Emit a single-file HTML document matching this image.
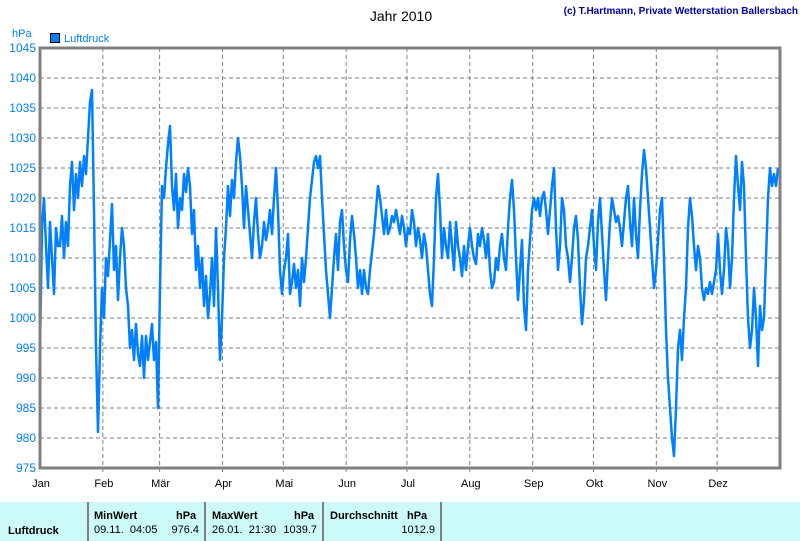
<!DOCTYPE html>
<html><head><meta charset="utf-8">
<style>
body{margin:0;background:#fff;font-family:"Liberation Sans",sans-serif;}
#wrap{position:relative;width:800px;height:541px;overflow:hidden;background:#fff;}
</style></head>
<body>
<div id="wrap">
<svg id="chart" width="800" height="500" style="position:absolute;left:0;top:0">
<text x="401" y="21" text-anchor="middle" font-size="14" fill="#000">Jahr 2010</text>
<text x="798" y="14" text-anchor="end" font-size="10" font-weight="bold" fill="#0000a0">(c) T.Hartmann, Private Wetterstation Ballersbach</text>
<text x="12" y="37" font-size="11" fill="#0080ff">hPa</text>
<g><rect x="50.5" y="33.5" width="9" height="9" fill="#0080ff" stroke="#000"/><text x="64" y="42" font-size="11" fill="#0080ff">Luftdruck</text></g>
<g id="grid"></g>
<g id="yticks"></g>
<g id="xticks"></g>
<g id="series"></g>
<rect x="40" y="48" width="740" height="420" fill="none" stroke="#808080" stroke-width="3"/>
</svg>
<div style="position:absolute;left:0;top:502px;width:800px;height:39px;background:#ccfaf8;font-size:11px;color:#000;">
  <div style="position:absolute;left:8px;top:23px;font-weight:bold;">Luftdruck</div>
  <div style="position:absolute;left:87px;top:0;width:2px;height:39px;background:#808080"></div>
  <div style="position:absolute;left:94px;top:8px;font-weight:bold;">MinWert</div>
  <div style="position:absolute;left:176px;top:8px;font-weight:bold;">hPa</div>
  <div style="position:absolute;left:94px;top:22px;">09.11.&nbsp; 04:05</div>
  <div style="position:absolute;left:160px;top:22px;width:39px;text-align:right;">976.4</div>
  <div style="position:absolute;left:204px;top:0;width:2px;height:39px;background:#808080"></div>
  <div style="position:absolute;left:212px;top:8px;font-weight:bold;">MaxWert</div>
  <div style="position:absolute;left:294px;top:8px;font-weight:bold;">hPa</div>
  <div style="position:absolute;left:212px;top:22px;">26.01.&nbsp; 21:30</div>
  <div style="position:absolute;left:276px;top:22px;width:41px;text-align:right;">1039.7</div>
  <div style="position:absolute;left:322px;top:0;width:2px;height:39px;background:#808080"></div>
  <div style="position:absolute;left:330px;top:8px;font-weight:bold;">Durchschnitt&nbsp;&nbsp; hPa</div>
  <div style="position:absolute;left:380px;top:22px;width:55px;text-align:right;">1012.9</div>
  <div style="position:absolute;left:440px;top:0;width:2px;height:39px;background:#808080"></div>
</div>
</div>
<script>
const yTicks=[975,980,985,990,995,1000,1005,1010,1015,1020,1025,1030,1035,1040,1045];
const months=["Jan","Feb","Mär","Apr","Mai","Jun","Jul","Aug","Sep","Okt","Nov","Dez"];
const monthStartDays=[0,31,59,90,120,151,181,212,243,273,304,334];
const pressure=[995,1015,1020,1012,1005,1016,1010,1004,1015,1012,1012,1017,1010,1016,1012,1022,1026,1018,1024,1020,1026,1022,1027,1024,1030,1036,1038,1018,995,981,995,1005,1000,1010,1007,1013,1019,1008,1012,1003,1010,1015,1012,1005,1002,995,998,993,999,994,992,997,990,997,993,996,999,993,996,985,1005,1022,1020,1025,1029,1032,1022,1018,1024,1015,1020,1018,1024,1021,1025,1022,1014,1018,1008,1012,1005,1010,1002,1007,1000,1004,1010,1002,1015,1005,993,1000,1010,1015,1022,1017,1023,1020,1026,1030,1027,1022,1015,1022,1018,1014,1010,1016,1020,1014,1010,1012,1016,1013,1015,1018,1014,1020,1025,1018,1008,1004,1008,1010,1014,1004,1006,1009,1005,1008,1002,1010,1006,1010,1015,1020,1023,1026,1027,1025,1027,1020,1014,1008,1004,1000,1005,1010,1014,1008,1016,1018,1012,1008,1006,1013,1017,1014,1010,1005,1008,1004,1008,1005,1004,1008,1011,1014,1018,1022,1020,1017,1014,1018,1014,1015,1017,1016,1018,1016,1014,1017,1015,1012,1015,1014,1018,1016,1012,1015,1013,1010,1014,1012,1008,1004,1002,1010,1020,1024,1018,1010,1015,1012,1010,1016,1012,1008,1016,1012,1010,1007,1012,1008,1012,1015,1012,1010,1009,1014,1012,1015,1013,1010,1014,1008,1005,1006,1010,1008,1012,1014,1010,1008,1015,1020,1023,1018,1010,1003,1008,1013,1002,998,1008,1013,1018,1020,1018,1020,1017,1020,1021,1018,1014,1018,1022,1025,1015,1008,1012,1020,1018,1012,1010,1006,1010,1015,1017,1013,1005,999,1003,1010,1012,1015,1018,1012,1008,1016,1020,1014,1008,1003,1010,1016,1020,1018,1016,1017,1015,1012,1016,1020,1022,1016,1012,1020,1014,1010,1018,1024,1028,1025,1020,1015,1010,1005,1008,1013,1018,1020,1010,998,990,985,980,977,985,995,998,993,1000,1005,1015,1020,1017,1012,1008,1012,1010,1005,1003,1005,1004,1006,1004,1006,1008,1014,1008,1004,1008,1015,1012,1005,1010,1020,1027,1022,1018,1026,1022,1010,1000,995,998,1005,1000,992,1002,998,1000,1010,1020,1025,1022,1024,1022,1025];

const L=40,R=780,T=48,B=468,DAYS=365;
const yS=v=>T+(1045-v)*(B-T)/70;
const xDay=d=>L+d*(R-L)/DAYS;
const xIdx=i=>L+i*(778-L)/(pressure.length-1);
const NS="http://www.w3.org/2000/svg";
const grid=document.getElementById('grid'),yt=document.getElementById('yticks'),xt=document.getElementById('xticks'),ser=document.getElementById('series');
yTicks.forEach(v=>{
  const y=yS(v);
  const ln=document.createElementNS(NS,'line');
  
  
  ln.setAttribute('x1',L);ln.setAttribute('x2',R);ln.setAttribute('y1',y);ln.setAttribute('y2',y);
  ln.setAttribute('stroke','#808080');ln.setAttribute('stroke-dasharray','4,3');
  grid.appendChild(ln);
  const t=document.createElementNS(NS,'text');
  
  
  t.setAttribute('x',36);t.setAttribute('y',y+4);t.setAttribute('text-anchor','end');
  t.setAttribute('font-size','12');t.setAttribute('fill','#0080ff');
  t.textContent=v;yt.appendChild(t);
});
months.forEach((m,i)=>{
  const x=xDay(monthStartDays[i]);
  if(i>0){
    const ln=document.createElementNS(NS,'line');
    
    
    ln.setAttribute('x1',x);ln.setAttribute('x2',x);ln.setAttribute('y1',T);ln.setAttribute('y2',B+5);
    ln.setAttribute('stroke','#808080');ln.setAttribute('stroke-dasharray','4,3');
    grid.appendChild(ln);
  }
  const t=document.createElementNS(NS,'text');
  
  
  t.setAttribute('x',x+1);t.setAttribute('y',487);t.setAttribute('text-anchor','middle');
  t.setAttribute('font-size','11');t.setAttribute('fill','#000');
  t.textContent=m;xt.appendChild(t);
});
const pts=pressure.map((v,i)=>xIdx(i).toFixed(1)+','+yS(v).toFixed(1)).join(' ');
const pl=document.createElementNS(NS,'polyline');


pl.setAttribute('points',pts);pl.setAttribute('fill','none');
pl.setAttribute('stroke','#0080ff');pl.setAttribute('stroke-width','2.5');pl.setAttribute('stroke-linejoin','round');
ser.appendChild(pl);
</script>
</body></html>
